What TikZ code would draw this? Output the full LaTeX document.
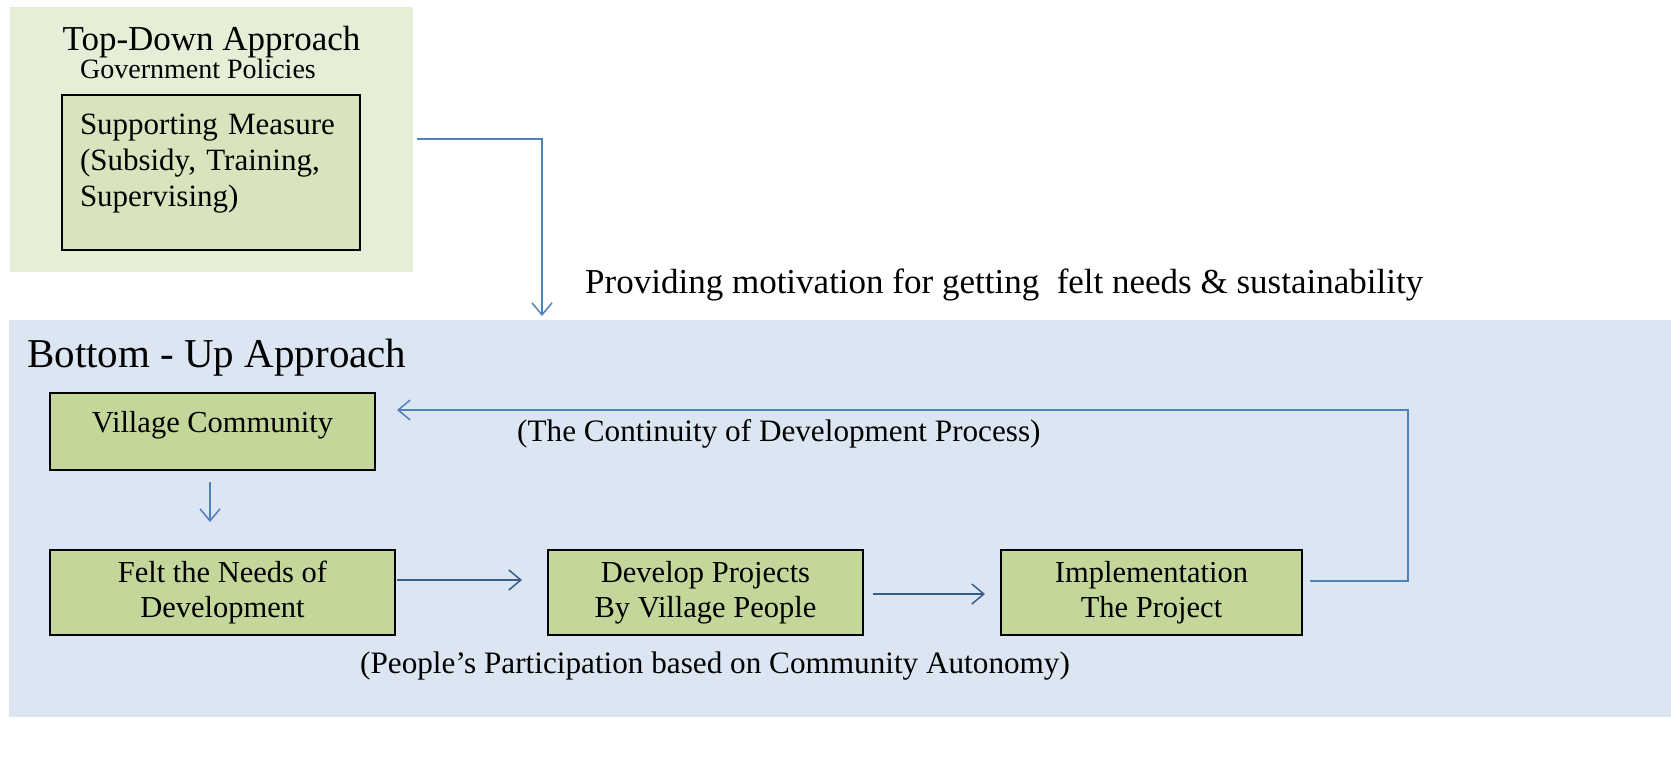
\documentclass[tikz,border=0pt]{standalone}
\usepackage{fontspec}
\setmainfont{Liberation Serif}
\usetikzlibrary{arrows.meta, positioning}
\definecolor{topgreen}{HTML}{E6EED8}
\definecolor{botblue}{HTML}{DCE6F2}
\definecolor{boxgreen}{HTML}{C4D79B}
\definecolor{palegreen}{HTML}{D7E4BD}
\definecolor{lightline}{HTML}{4F81BD}
\definecolor{darkline}{HTML}{385D8A}

\begin{document}
\begin{tikzpicture}[x=1pt,y=-1pt]
\tikzset{
  panel/.style={draw=none, inner sep=0, outer sep=0},
  stepbox/.style={draw=black, line width=1.8pt, fill=boxgreen, inner sep=0, outer sep=0,
    font=\fontsize{30.5}{35}\selectfont, align=center},
  txt/.style={font=\fontsize{31.2}{36}\selectfont, inner sep=0, anchor=base west},
  flow/.style={line width=1.5pt, -{Straight Barb[length=12pt,width=20pt,line width=1.5pt]}}
}
\useasboundingbox (0,0) rectangle (1671,764);

% panels
\node[panel, fill=topgreen, minimum width=403, minimum height=265] (topdown) at (211.5,139.5) {};
\node[panel, fill=botblue, minimum width=1662, minimum height=397] (bottomup) at (840,518.5) {};

% top part
\node[inner sep=0, anchor=base, font=\fontsize{35}{35}\selectfont] (tdtitle) at (211.5,50) {Top-Down Approach};
\node[inner sep=0, anchor=base, font=\fontsize{28}{28}\selectfont] (gov) at (198,78) {Government Policies};
\node[stepbox, fill=palegreen, align=left, text width=262, inner xsep=18, inner ysep=0,
  text height=39, text depth=116, font=\fontsize{31}{36}\selectfont] (supp) at (211,172.5)
  {Supporting Measure\\(Subsidy, Training,\\Supervising)};

\coordinate (t1) at (417,139);
\coordinate (t2) at (542,316);
\draw[flow, lightline] (t1) -| (t2);
\node[txt, font=\fontsize{35}{36}\selectfont] (motiv) at (585,293) {Providing motivation for getting\ \ felt needs \& sustainability};

% bottom part
\node[inner sep=0, anchor=base west, font=\fontsize{41}{41}\selectfont] (butitle) at (27,367) {Bottom - Up Approach};
\node[stepbox, minimum width=325, inner ysep=0, text height=39, text depth=38] (vc) at (212.5,431.5) {Village Community};
\node[stepbox, minimum width=345, minimum height=85] (felt) at (222.5,592.5) {Felt the Needs of\\Development};
\node[stepbox, minimum width=315, minimum height=85] (dev) at (705.5,592.5) {Develop Projects\\By Village People};
\node[stepbox, minimum width=301, minimum height=85] (impl) at (1151.5,592.5) {Implementation\\The Project};

\draw[flow, lightline] ([xshift=-2.5pt,yshift=-12pt]vc.south) -- +(0,40);
\draw[flow, darkline] ([xshift=2pt,yshift=12.5pt]felt.east) -- ([xshift=-26pt,yshift=12.5pt]dev.west);
\draw[flow, darkline] ([xshift=10pt,yshift=-1.5pt]dev.east) -- ([xshift=-16pt,yshift=-1.5pt]impl.west);

\coordinate (r) at (1408,410);
\draw[flow, lightline] ([xshift=8pt,yshift=11.5pt]impl.east) -| (r) -- ([xshift=22pt,yshift=21.5pt]vc.east);

\node[txt] (cont) at (517,441) {(The Continuity of Development Process)};
\node[txt] (part) at (360,673) {(People’s Participation based on Community Autonomy)};
\end{tikzpicture}
\end{document}
